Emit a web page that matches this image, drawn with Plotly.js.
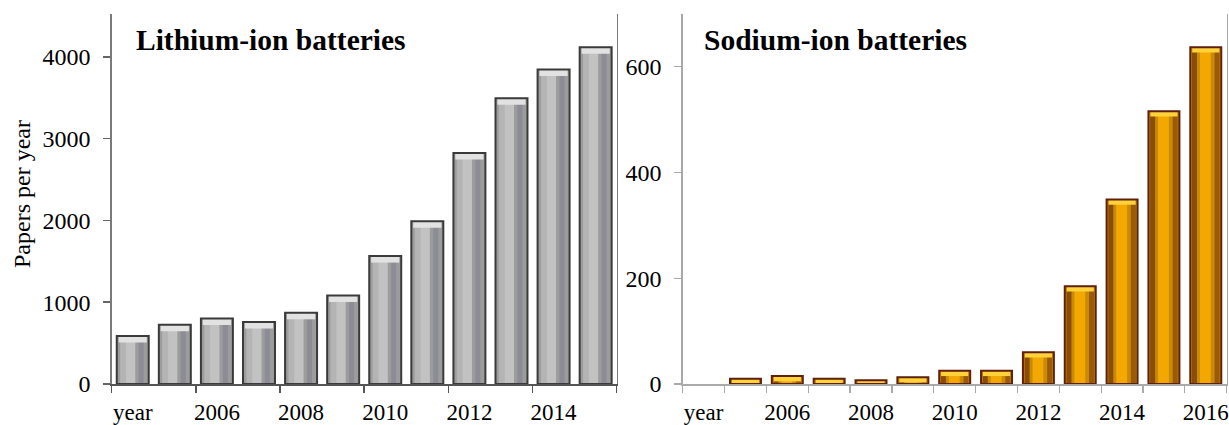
<!DOCTYPE html>
<html><head><meta charset="utf-8">
<script src="https://cdn.plot.ly/plotly-3.0.1.min.js"></script>
<style>html,body{margin:0;padding:0;background:#fff}#chart{width:1229px;height:425px}</style>
</head><body><div id="chart"></div>
<script>
// ---- data ----
const liCategories = ['year','2005','2006','2007','2008','2009','2010','2011','2012','2013','2014','2015'];
const liPapers = [588, 725, 802, 758, 871, 1082, 1564, 1990, 2825, 3493, 3846, 4118];
const liTickLabels = ['year','2006','2008','2010','2012','2014'];

const naCategories = ['year','2005','2006','2007','2008','2009','2010','2011','2012','2013','2014','2015','2016'];
const naPapers = [null, 10, 15, 10, 7, 13, 25, 25, 60, 185, 349, 516, 637];
const naTickLabels = ['year','2006','2008','2010','2012','2014','2016'];

const liTitle = 'Lithium-ion batteries';
const naTitle = 'Sodium-ion batteries';
const yTitle = 'Papers per year';

// ---- helpers ----
const idx = cats => cats.map((c, i) => i);
const tickIdx = (cats, labels) => labels.map(l => cats.indexOf(l));
const FONT = 'Liberation Serif, Times New Roman, serif';

function barSet(cats, vals, xa, ya, opt) {
  const x = idx(cats);
  const W = opt.width;
  const traces = [];
  traces.push({type:'bar', x, y: vals, xaxis: xa, yaxis: ya, width: W,
    marker:{color: opt.base, line:{width:0}}, hoverinfo:'skip'});
  opt.stripes.forEach(s => {
    traces.push({type:'bar', x, y: vals, xaxis: xa, yaxis: ya, width: s.w, offset: s.off,
      marker:{color: s.c, line:{width:0}}, hoverinfo:'skip'});
  });
  const hl = opt.hl;
  traces.push({type:'bar', x, y: vals.map(v => v == null ? null : Math.min(hl.h, v)),
    base: vals.map(v => v == null ? null : Math.max(0, v - hl.h)),
    xaxis: xa, yaxis: ya, width: W * 0.88, marker:{color: hl.c, line:{width:0}}, hoverinfo:'skip'});
  traces.push({type:'bar', x, y: vals, xaxis: xa, yaxis: ya, width: W,
    marker:{color:'rgba(0,0,0,0)', line:{width: 2, color: opt.line}}, hoverinfo:'skip'});
  return traces;
}

const data = [
  ...barSet(liCategories, liPapers, 'x', 'y', {
    width: 0.76, base: '#9c9c9c', line: '#3a3a3a',
    stripes: [{w:0.16, off:-0.30, c:'#b4b4b4'}, {w:0.22, off:-0.16, c:'#c2c2c2'}, {w:0.12, off:0.14, c:'#8c8c96'}],
    hl: {h: 80, c: '#e2e2e2'}
  }),
  ...barSet(naCategories, naPapers, 'x2', 'y2', {
    width: 0.74, base: '#c98a06', line: '#5e1f0c',
    stripes: [{w:0.12, off:-0.33, c:'#8a4d08'}, {w:0.26, off:-0.14, c:'#f2a800'}, {w:0.12, off:0.21, c:'#9a5a08'}],
    hl: {h: 10, c: '#ffd23a'}
  })
];

const yTickFont = {family: FONT, size: 24, color: '#000'};
const xTickFont = {family: FONT, size: 23, color: '#000'};

const layout = {
  width: 1229, height: 425,
  margin: {l:0, r:0, t:0, b:0},
  paper_bgcolor: '#fff', plot_bgcolor: '#fff',
  showlegend: false, barmode: 'overlay', hovermode: false,
  font: {family: FONT, color: '#000'},
  xaxis: {
    domain: [111.7/1229, 616.7/1229], anchor: 'y',
    range: [-0.5, liCategories.length - 0.5], fixedrange: true,
    tickmode: 'array', tickvals: tickIdx(liCategories, liTickLabels), ticktext: liTickLabels,
    ticks: '', tickfont: xTickFont, ticklabelstandoff: 7, ticklabeloverflow: 'allow',
    minor: {tickmode: 'linear', tick0: -0.5, dtick: 2, ticks: 'outside', ticklen: 7, tickwidth: 1.5, tickcolor: '#555', showgrid: false},
    showline: true, linecolor: '#555', linewidth: 1.5, mirror: false, showgrid: false, zeroline: false
  },
  yaxis: {
    domain: [41/425, 411/425], anchor: 'x',
    range: [0, 4523], fixedrange: true,
    tickvals: [0, 1000, 2000, 3000, 4000], ticks: 'outside', ticklen: 7, tickwidth: 1.5, tickcolor: '#666',
    tickfont: yTickFont, ticklabelstandoff: 8,
    showline: true, linecolor: '#7a7a7a', linewidth: 1.5, mirror: true, showgrid: false, zeroline: false
  },
  xaxis2: {
    domain: [682.7/1229, 1226.7/1229], anchor: 'y2',
    range: [-0.5, naCategories.length - 0.5], fixedrange: true,
    tickmode: 'array', tickvals: tickIdx(naCategories, naTickLabels), ticktext: naTickLabels,
    ticks: '', tickfont: xTickFont, ticklabelstandoff: 7, ticklabeloverflow: 'allow',
    minor: {tickmode: 'linear', tick0: -0.5, dtick: 1, ticks: 'outside', ticklen: 7, tickwidth: 1.2, tickcolor: '#aaa', showgrid: false},
    showline: true, linecolor: '#aaa', linewidth: 1.5, mirror: false, showgrid: false, zeroline: false
  },
  yaxis2: {
    domain: [41/425, 411/425], anchor: 'x2',
    range: [0, 700], fixedrange: true,
    tickvals: [0, 200, 400, 600], ticks: 'outside', ticklen: 7, tickwidth: 1.2, tickcolor: '#aaa',
    tickfont: yTickFont, ticklabelstandoff: 8,
    showline: true, linecolor: '#a8a8a8', linewidth: 1.5, mirror: true, showgrid: false, zeroline: false
  },
  annotations: [
    {text: liTitle, xref: 'paper', yref: 'paper', x: 134/1229, y: (425-40)/425, xanchor: 'left', yanchor: 'middle',
     showarrow: false, font: {family: FONT, size: 29.5, color: '#000', weight: 'bold'}},
    {text: naTitle, xref: 'paper', yref: 'paper', x: 702/1229, y: (425-40)/425, xanchor: 'left', yanchor: 'middle',
     showarrow: false, font: {family: FONT, size: 29.5, color: '#000', weight: 'bold'}},
    {text: yTitle, xref: 'paper', yref: 'paper', x: 22/1229, y: (425-194)/425, xanchor: 'center', yanchor: 'middle',
     textangle: -90, showarrow: false, font: {family: FONT, size: 24, color: '#000'}}
  ]
};

Plotly.newPlot('chart', data, layout, {displayModeBar: false, staticPlot: true});
</script></body></html>
